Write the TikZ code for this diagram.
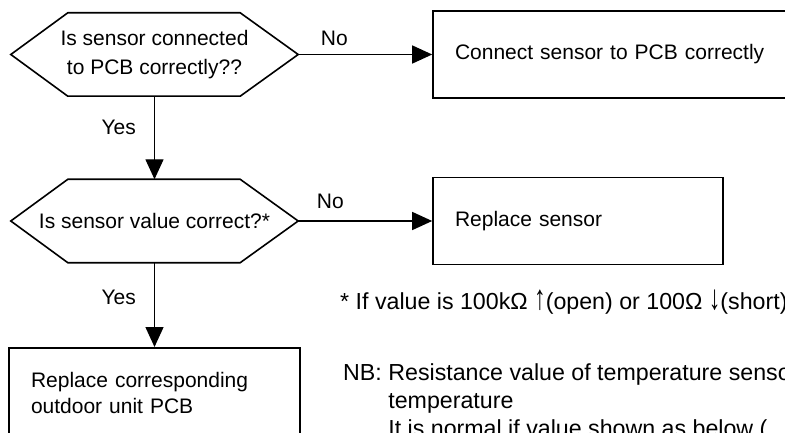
\documentclass[tikz,border=0pt]{standalone}
\usepackage{fontspec}
\setmainfont{Liberation Sans}
\newcommand{\tallarrow}[1]{\scalebox{1}[1.5]{#1}}
\usetikzlibrary{arrows.meta, positioning, calc}
\tikzset{
  box/.style={draw, line width=1.6pt, align=left, inner xsep=22pt, inner ysep=0pt, minimum height=87pt, font=\fontsize{21}{26}\selectfont},
  decision/.style={minimum width=287pt, minimum height=83pt, inner sep=0pt, align=center, font=\fontsize{21}{29}\selectfont},
  flow/.style={line width=1.4pt, -{Triangle[length=20pt, width=18pt]}},
  lbl/.style={inner sep=0pt, font=\fontsize{21}{26}\selectfont},
  note/.style={inner sep=0pt, anchor=base west, font=\fontsize{23.2}{28}\selectfont}
}

\begin{document}
\begin{tikzpicture}[x=1pt, y=-1pt]
  \useasboundingbox (0,0) rectangle (785,433);
  \clip (0,0) rectangle (785,433);

  % questions
  \node[decision] (q1) at (154.5,54.5) {Is sensor connected\\to PCB correctly??};
  \node[decision] (q2) at (154.5,221) {Is sensor value correct?*};
  \foreach \q in {q1,q2}
    \draw[line width=1.6pt] (\q.west) -- ([xshift=57pt]\q.north west) -- ([xshift=-58pt]\q.north east)
      -- (\q.east) -- ([xshift=-58pt]\q.south east) -- ([xshift=57pt]\q.south west) -- cycle;

  % actions
  \node[box, text width=326pt] (fix1) at (618,54.5) {Connect sensor to PCB correctly};
  \node[box, text width=246pt] (fix2) at (578,221) {Replace sensor};
  \node[box, text width=247pt, minimum height=90pt, anchor=north] (fix3) at (154.5,347) {Replace corresponding\\outdoor unit PCB};

  \draw[flow] (q1.south) -- node[lbl, pos=.37, left=18pt] {Yes} (q2.north);
  \draw[flow] (q1.east) -- node[lbl, pos=.27, above=8pt] {No} (fix1.west);
  \draw[flow] (q2.east) -- node[lbl, pos=.24, above=12pt] {No} (fix2.west);
  \draw[flow] (q2.south) -- node[lbl, pos=.41, left=18pt] {Yes} (fix3.north);

  % notes
  \node[note] (foot) at (340,309) {* If value is 100kΩ \tallarrow{↑}(open) or 100Ω \tallarrow{↓}(short)};
  \node[note] (nb) at (343,380) {\begin{tabular}[t]{@{}l@{\hspace{0.28em}}l@{}}NB: & Resistance value of temperature sensor\\
    & temperature\\ & It is normal if value shown as below (\end{tabular}};
\end{tikzpicture}
\end{document}
